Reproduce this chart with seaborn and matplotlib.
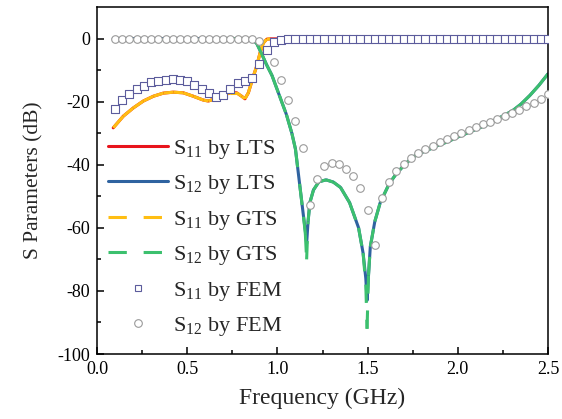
import numpy as np
import matplotlib
matplotlib.use("Agg")
import matplotlib.pyplot as plt
import seaborn as sns
import pandas as pd
from matplotlib.collections import LineCollection
from matplotlib.lines import Line2D

# FEM samples, every 0.04 GHz from 0.1 to 2.5
fem_freq = np.round(np.arange(0.1, 2.5001, 0.04), 2)
s11_fem = [-22.3, -19.4, -17.5, -15.9, -14.9, -13.8, -13.3, -13.0, -12.9, -13.1,
           -13.6, -14.6, -15.9, -17.3, -18.6, -17.8, -15.9, -14.1, -13.3, -12.4,
           -8.2, -3.6, -1.2, -0.4, -0.3, -0.2, -0.2, -0.1, -0.1, -0.1,
           -0.1, -0.1, -0.1, -0.1, -0.1, -0.1, -0.1, -0.1, -0.1, -0.1,
           -0.1, -0.1, -0.1, -0.1, -0.1, -0.1, -0.1, -0.1, -0.1, -0.1,
           -0.1, -0.1, -0.1, -0.1, -0.1, -0.1, -0.1, -0.1, -0.1, -0.1, -0.1]
s12_fem = [0, 0, 0, 0, 0, 0, 0, 0, 0, 0,
           0, 0, 0, 0, 0, 0, 0, 0, 0, 0,
           -0.8, -3.5, -7.5, -13.1, -19.4, -26.2, -34.6, -52.8, -44.6, -40.4,
           -39.5, -39.9, -41.5, -43.6, -47.4, -54.4, -65.3, -50.5, -45.4, -42.1,
           -39.8, -37.9, -36.3, -35.0, -34.0, -32.9, -31.9, -30.8, -29.8, -28.9,
           -28.1, -27.1, -26.3, -25.4, -24.6, -23.6, -22.6, -21.5, -20.3, -19.1, -17.5]

# S11 curves (LTS and GTS lie on top of each other)
s11_freq = [0.09, 0.146, 0.201, 0.257, 0.312, 0.368, 0.423, 0.478, 0.534, 0.589,
            0.617, 0.663, 0.700, 0.737, 0.774, 0.802, 0.820, 0.839, 0.867, 0.885,
            0.904, 0.922, 0.941, 0.96, 1.0, 1.1, 1.2, 1.3, 1.4, 1.5,
            1.6, 1.7, 1.8, 1.9, 2.0, 2.1, 2.2, 2.3, 2.4, 2.5]
s11_lts = [-28.3, -24.6, -22.0, -19.8, -18.3, -17.3, -17.0, -17.2, -18.3, -19.5,
           -19.8, -19.0, -18.0, -17.2, -17.2, -18.3, -19.1, -17.2, -11.9, -8.8,
           -4.5, -1.4, -0.2, -0.1, -0.1, -0.1, -0.1, -0.1, -0.1, -0.1,
           -0.1, -0.1, -0.1, -0.1, -0.1, -0.1, -0.1, -0.1, -0.1, -0.1]
s11_gts = list(s11_lts)

# S12 curves
s12_freq = [0.09, 0.2, 0.3, 0.4, 0.5, 0.6, 0.7, 0.8, 0.86, 0.885,
            0.91, 0.94, 0.97, 1.01, 1.05, 1.08, 1.10, 1.125, 1.145, 1.155,
            1.162, 1.17, 1.18, 1.20, 1.23, 1.27, 1.31, 1.35, 1.40, 1.45,
            1.475, 1.49, 1.497, 1.505, 1.515, 1.54, 1.57, 1.62, 1.66, 1.70,
            1.75, 1.80, 1.85, 1.90, 1.94, 2.0, 2.03, 2.07, 2.12, 2.17,
            2.21, 2.26, 2.31, 2.35, 2.40, 2.45, 2.50]
s12_lts = [0, 0, 0, 0, 0, 0, 0, -0.1, -0.3, -1.5,
           -4.5, -8.3, -11.7, -17.9, -24.1, -30.0, -35.0, -47.0, -56.5, -61.0,
           -65.0, -58.0, -52.0, -48.0, -45.4, -44.8, -45.5, -47.2, -52.0, -60.0,
           -68.0, -76.0, -83.0, -75.0, -66.0, -58.0, -52.0, -46.0, -42.8, -40.3,
           -37.6, -36.1, -34.9, -33.6, -32.8, -31.2, -30.5, -29.5, -28.3, -27.1,
           -25.7, -24.3, -22.6, -20.8, -18.0, -14.8, -11.2]
s12_gts = [0, 0, 0, 0, 0, 0, 0, -0.1, -0.3, -1.5,
           -4.5, -8.3, -11.7, -17.9, -24.1, -30.0, -35.0, -47.0, -56.5, -62.0,
           -70.0, -58.0, -52.0, -48.0, -45.4, -44.8, -45.5, -47.2, -52.0, -60.0,
           -68.0, -78.0, -92.0, -75.0, -66.0, -58.0, -52.0, -46.0, -42.8, -40.3,
           -37.6, -36.1, -34.9, -33.6, -32.8, -31.2, -30.5, -29.5, -28.3, -27.1,
           -25.7, -24.3, -22.6, -20.8, -18.0, -14.8, -11.2]

labels = [r"S$_{\mathregular{11}}$ by LTS", r"S$_{\mathregular{12}}$ by LTS",
          r"S$_{\mathregular{11}}$ by GTS", r"S$_{\mathregular{12}}$ by GTS",
          r"S$_{\mathregular{11}}$ by FEM", r"S$_{\mathregular{12}}$ by FEM"]

c_red = "#e8141c"
c_blue = "#2f63a0"
c_orange = "#ffbe12"
c_green = "#3cc06e"
c_square = "#5c5c9c"
c_circle = "#9a9a9a"
lw = 2.2
dash = (0, (6, 5.5))

sns.set_theme(style="ticks")
plt.rcParams["font.family"] = ["Liberation Serif", "DejaVu Serif"]
plt.rcParams["mathtext.fontset"] = "custom"
plt.rcParams["mathtext.rm"] = "Liberation Serif"
plt.rcParams["axes.unicode_minus"] = False

fig = plt.figure(figsize=(5.62, 4.19), dpi=100)
ax = fig.add_axes([97 / 562, 65 / 419, 451 / 562, 347 / 419])

lts = pd.DataFrame({"f": s11_freq, "db": s11_lts})
sns.lineplot(data=lts, x="f", y="db", ax=ax, color=c_red, lw=lw, sort=False)
lts2 = pd.DataFrame({"f": s12_freq, "db": s12_lts})
sns.lineplot(data=lts2, x="f", y="db", ax=ax, color=c_blue, lw=lw, sort=False)


def dashed_segments(x, y, color):
    # dash pattern restarts on every segment, like the original plot
    pts = np.column_stack([x, y])
    segs = [pts[i:i + 2] for i in range(len(pts) - 1)]
    lc = LineCollection(segs, colors=color, linewidths=lw, linestyles=dash,
                        capstyle="butt", zorder=2.5)
    ax.add_collection(lc)


dashed_segments(s11_freq, s11_gts, c_orange)
dashed_segments(s12_freq, s12_gts, c_green)

fem = pd.DataFrame({"f": fem_freq, "s11": s11_fem, "s12": s12_fem})
sns.scatterplot(data=fem, x="f", y="s12", ax=ax, marker="o", s=30,
                facecolor="white", edgecolor=c_circle, linewidth=0.8, zorder=3)
sns.scatterplot(data=fem, x="f", y="s11", ax=ax, marker="s", s=27,
                facecolor="white", edgecolor=c_square, linewidth=0.8, zorder=3)

ax.set_xlim(0, 2.5)
ax.set_ylim(-100, 10)
ax.set_xticks([0, 0.5, 1.0, 1.5, 2.0, 2.5])
ax.set_xticklabels(["0.0", "0.5", "1.0", "1.5", "2.0", "2.5"])
ax.set_xticks(np.arange(0.25, 2.5, 0.5), minor=True)
ax.set_yticks([0, -20, -40, -60, -80, -100])
ax.set_yticks([-10, -30, -50, -70, -90], minor=True)
ax.tick_params(which="both", direction="in", top=False, right=False,
               colors="black", labelsize=13, width=1.1)
ax.tick_params(which="major", length=5, pad=5)
ax.tick_params(which="minor", length=3)
for sp in ax.spines.values():
    sp.set_linewidth(1.1)
    sp.set_color("black")

ax.set_xlabel("Frequency (GHz)", fontsize=17, labelpad=7)
ax.set_ylabel("S Parameters (dB)", fontsize=15.5, labelpad=10)

handles = [
    Line2D([], [], color=c_red, lw=lw),
    Line2D([], [], color=c_blue, lw=lw),
    Line2D([], [], color=c_orange, lw=lw, ls=dash),
    Line2D([], [], color=c_green, lw=lw, ls=dash),
    Line2D([], [], ls="none", marker="s", ms=5, mfc="white", mec=c_square, mew=0.8),
    Line2D([], [], ls="none", marker="o", ms=5.5, mfc="white", mec=c_circle, mew=0.8),
]
ax.legend(handles, labels, loc="upper left", bbox_to_anchor=(0.025, 0.623),
          frameon=False, fontsize=16, handlelength=2.7, handletextpad=0.2,
          labelspacing=0.56, borderpad=0, borderaxespad=0)

fig.savefig("out.png", dpi=100)
